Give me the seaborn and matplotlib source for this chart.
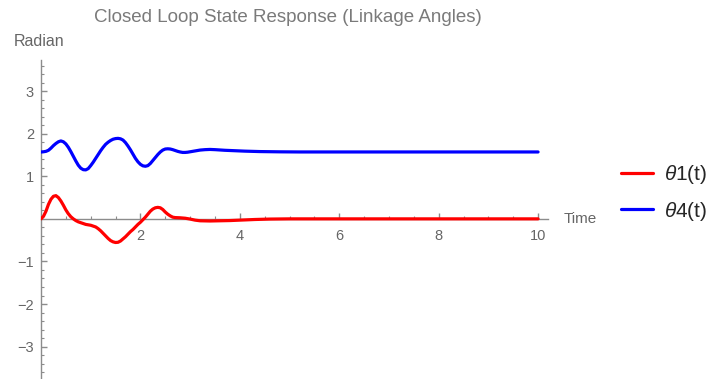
import matplotlib
matplotlib.use("Agg")
import matplotlib.pyplot as plt
from matplotlib.ticker import MultipleLocator, FixedLocator
import pandas as pd
import seaborn as sns

# Closed-loop linkage angle response (radians vs. time)
t_theta1 = [0.00, 0.05, 0.10, 0.15, 0.20, 0.25, 0.30, 0.35, 0.40, 0.45, 0.50,
            0.55, 0.60, 0.65, 0.70, 0.75, 0.80, 0.85, 0.90, 0.95, 1.00, 1.05,
            1.10, 1.15, 1.20, 1.25, 1.30, 1.35, 1.40, 1.45, 1.50, 1.55, 1.60,
            1.65, 1.70, 1.75, 1.80, 1.85, 1.90, 1.95, 2.00, 2.05, 2.10, 2.15,
            2.20, 2.25, 2.30, 2.35, 2.40, 2.45, 2.50, 2.55, 2.60, 2.65, 2.70,
            2.80, 2.90, 3.00, 3.10, 3.20, 3.40, 3.60, 3.80, 4.00, 4.30, 4.60,
            5.00, 6.00, 7.00, 8.00, 9.00, 10.00]
theta1 = [0.00, 0.06, 0.18, 0.34, 0.46, 0.53, 0.545, 0.50, 0.42, 0.32, 0.21,
          0.12, 0.05, 0.00, -0.04, -0.07, -0.09, -0.11, -0.13, -0.14, -0.15, -0.17,
          -0.19, -0.23, -0.28, -0.34, -0.40, -0.46, -0.51, -0.54, -0.555, -0.55, -0.52,
          -0.47, -0.42, -0.36, -0.30, -0.25, -0.19, -0.13, -0.08, -0.02, 0.04, 0.11,
          0.18, 0.23, 0.26, 0.27, 0.26, 0.22, 0.16, 0.11, 0.07, 0.04, 0.03,
          0.025, 0.015, -0.005, -0.03, -0.045, -0.05, -0.045, -0.04, -0.03, -0.015, -0.005,
          0.0, 0.0, 0.0, 0.0, 0.0, 0.0]

t_theta4 = [0.00, 0.05, 0.10, 0.15, 0.20, 0.25, 0.30, 0.35, 0.40, 0.45, 0.50,
            0.55, 0.60, 0.65, 0.70, 0.75, 0.80, 0.85, 0.90, 0.95, 1.00, 1.05,
            1.10, 1.15, 1.20, 1.25, 1.30, 1.35, 1.40, 1.45, 1.50, 1.55, 1.60,
            1.65, 1.70, 1.75, 1.80, 1.85, 1.90, 1.95, 2.00, 2.05, 2.10, 2.15,
            2.20, 2.25, 2.30, 2.35, 2.40, 2.45, 2.50, 2.55, 2.60, 2.65, 2.70,
            2.75, 2.80, 2.85, 2.90, 2.95, 3.00, 3.10, 3.20, 3.30, 3.40, 3.50,
            3.70, 3.90, 4.10, 4.40, 4.80, 5.20, 6.00, 7.00, 8.00, 9.00, 10.00]
theta4 = [1.57, 1.575, 1.585, 1.61, 1.66, 1.72, 1.77, 1.81, 1.83, 1.81, 1.76,
          1.68, 1.58, 1.47, 1.36, 1.26, 1.19, 1.155, 1.15, 1.18, 1.25, 1.33,
          1.42, 1.51, 1.60, 1.68, 1.75, 1.80, 1.84, 1.87, 1.885, 1.89, 1.88,
          1.85, 1.79, 1.71, 1.62, 1.52, 1.42, 1.34, 1.28, 1.245, 1.235, 1.25,
          1.30, 1.37, 1.44, 1.51, 1.57, 1.615, 1.64, 1.645, 1.64, 1.625, 1.605,
          1.585, 1.57, 1.56, 1.56, 1.565, 1.575, 1.595, 1.615, 1.625, 1.63, 1.625,
          1.61, 1.60, 1.59, 1.58, 1.574, 1.5708, 1.5708, 1.5708, 1.5708, 1.5708, 1.5708]

series_names = ["$\\theta$1(t)", "$\\theta$4(t)"]
series_colors = ["#ff0000", "#0000ff"]

x_major = [2, 4, 6, 8, 10]
y_major = [-3, -2, -1, 1, 2, 3]

df = pd.concat([
    pd.DataFrame({"Time": t_theta1, "Radian": theta1, "series": series_names[0]}),
    pd.DataFrame({"Time": t_theta4, "Radian": theta4, "series": series_names[1]}),
], ignore_index=True)

sns.set_style("white")
plt.rcParams["font.family"] = ["Liberation Sans", "DejaVu Sans"]
plt.rcParams["mathtext.fontset"] = "custom"
plt.rcParams["mathtext.it"] = "Liberation Sans:italic"
plt.rcParams["mathtext.rm"] = "Liberation Sans"

fig = plt.figure(figsize=(7.12, 3.79), dpi=100)
ax = fig.add_axes([41 / 712, 0.0, (548 - 41) / 712, 1 - 60 / 379])

sns.lineplot(data=df, x="Time", y="Radian", hue="series", sort=False,
             palette=dict(zip(series_names, series_colors)),
             linewidth=2.3, ax=ax, legend=False)
for line in ax.lines:
    line.set_solid_joinstyle("round")
    line.set_solid_capstyle("round")

ax.set_xlim(0, 10.2)
ax.set_ylim(-3.76, 3.73)

axis_gray = "#8c8c8c"
label_gray = "#666666"
for side in ("top", "right"):
    ax.spines[side].set_visible(False)
ax.spines["left"].set_position(("data", 0))
ax.spines["bottom"].set_position(("data", 0))
for side in ("left", "bottom"):
    ax.spines[side].set_color(axis_gray)
    ax.spines[side].set_linewidth(1.0)
    ax.spines[side].set_zorder(0.5)

ax.xaxis.set_major_locator(FixedLocator(x_major))
ax.yaxis.set_major_locator(FixedLocator(y_major))
ax.xaxis.set_minor_locator(MultipleLocator(0.5))
ax.yaxis.set_minor_locator(MultipleLocator(0.2))
ax.tick_params(axis="both", which="both", bottom=True, left=True,
               top=False, right=False)
ax.tick_params(axis="both", which="major", direction="in", length=4.5, width=1,
               color=axis_gray, labelcolor=label_gray, labelsize=10.5)
ax.tick_params(axis="both", which="minor", direction="in", length=2.5, width=0.8,
               color=axis_gray)
ax.tick_params(axis="x", which="major", pad=7)
ax.tick_params(axis="y", which="major", pad=5)
ax.set_xticklabels([str(v) for v in x_major])
ax.set_yticklabels(["\u22123", "\u22122", "\u22121", "1", "2", "3"])
ax.set_xlabel("")
ax.set_ylabel("")

fig.text(288 / 712, 1 - 18 / 379, "Closed Loop State Response (Linkage Angles)",
         ha="center", va="center", fontsize=13.5, color="#7a7a7a")
fig.text(39 / 712, 1 - 42 / 379, "Radian", ha="center", va="center",
         fontsize=11.5, color=label_gray)
fig.text(580 / 712, 1 - 219 / 379, "Time", ha="center", va="center",
         fontsize=11, color=label_gray)

handles = [plt.Line2D([], [], color=c, lw=2.3) for c in series_colors]
fig.legend(handles, series_names, loc="center left",
           bbox_to_anchor=(621 / 712, 1 - 193 / 379), frameon=False,
           borderpad=0, borderaxespad=0,
           fontsize=15, handlelength=1.55, handletextpad=0.5, labelspacing=0.65)

fig.savefig("out.png", dpi=100)
